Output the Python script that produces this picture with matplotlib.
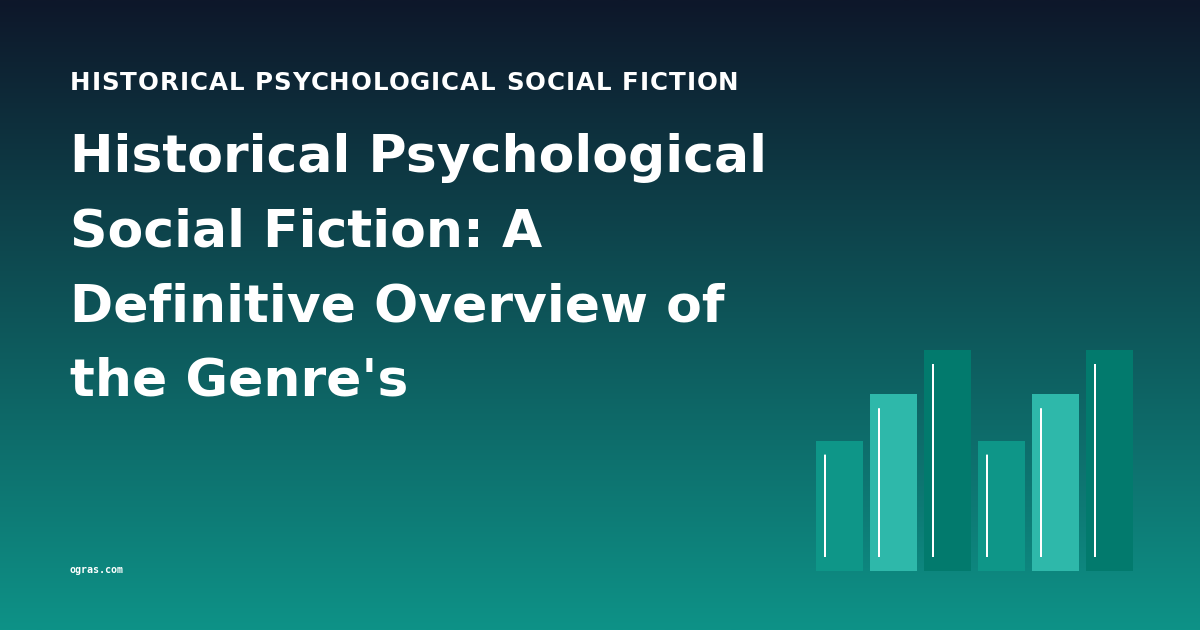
import numpy as np
import matplotlib
matplotlib.use("Agg")
import matplotlib.pyplot as plt
from matplotlib.colors import LinearSegmentedColormap

# ---- data ----
kicker = "HISTORICAL PSYCHOLOGICAL SOCIAL FICTION"
title_lines = ["Historical Psychological", "Social Fiction: A",
               "Definitive Overview of", "the Genre's"]
site = "ogras.com"
bar_values = [59, 80, 100, 59, 80, 100]
bar_colors = ["#0e9688", "#2eb8aa", "#027a6d", "#0e9688", "#2eb8aa", "#027a6d"]

W, H = 1200, 630
DPI = 100
fig = plt.figure(figsize=(W / DPI, H / DPI), dpi=DPI)

# background gradient
bg = fig.add_axes([0, 0, 1, 1])
cmap = LinearSegmentedColormap.from_list("bg", ["#0e172a", "#0d9287"])
grad = np.linspace(0, 1, 256).reshape(-1, 1)
bg.imshow(grad, aspect="auto", cmap=cmap, extent=[0, W, H, 0])
bg.set_xlim(0, W)
bg.set_ylim(H, 0)
bg.axis("off")

def px2pt(px):
    return px * 72 / DPI

renderer = fig.canvas.get_renderer()

def spaced_text(x0, y, s, size_px, spacing_px, **kw):
    """Draw text with letter spacing, keeping the font's own advance widths."""
    for i, ch in enumerate(s):
        if ch == " ":
            continue
        prefix = s[:i]
        if prefix:
            t = bg.text(0, 0, prefix + "|", fontsize=px2pt(size_px), **kw)
            tb = bg.text(0, 0, "|", fontsize=px2pt(size_px), **kw)
            w = t.get_window_extent(renderer).width - tb.get_window_extent(renderer).width
            t.remove(); tb.remove()
        else:
            w = 0
        bg.text(x0 + w + i * spacing_px, y, ch, fontsize=px2pt(size_px),
                va="baseline", ha="left", **kw)

# kicker
spaced_text(70, 90.5, kicker, 24.5, 0.97, color="white", fontweight="bold",
            family="DejaVu Sans")

# title
base0 = 172
step = 74.5
for i, line in enumerate(title_lines):
    bg.text(70, base0 + i * step, line, color="white", fontsize=px2pt(52),
            fontweight="bold", family="DejaVu Sans", va="baseline", ha="left")

# site
bg.text(69.5, 570, site, color="white", fontsize=px2pt(10), fontweight="bold",
        family="DejaVu Sans Mono", va="center", ha="left")

# bars axes: x 816..1133, y bottom 571, top (value 100) 350
left, right, bottom, top = 816, 1133, 571, 350
ax = fig.add_axes([left / W, 1 - bottom / H, (right - left) / W, (bottom - top) / H])
n = len(bar_values)
pitch = (right - left + 7) / n  # px per bar slot
bw = 47 / pitch
x = np.arange(n)
ax.bar(x, bar_values, width=bw, color=bar_colors, align="edge", zorder=2)
# white inner lines
unit_y = (bottom - top) / 100.0  # px per value unit
off_y = 14 / unit_y
off_x = 9 / pitch
for xi, v in zip(x, bar_values):
    ax.vlines(xi + off_x, off_y, v - off_y, color="white", linewidth=px2pt(2.0),
              zorder=3, snap=False, antialiased=True)
ax.set_xlim(0, n - 1 + bw)
ax.set_ylim(0, 100)
ax.axis("off")
ax.patch.set_alpha(0)

fig.savefig("out.png", dpi=DPI)
